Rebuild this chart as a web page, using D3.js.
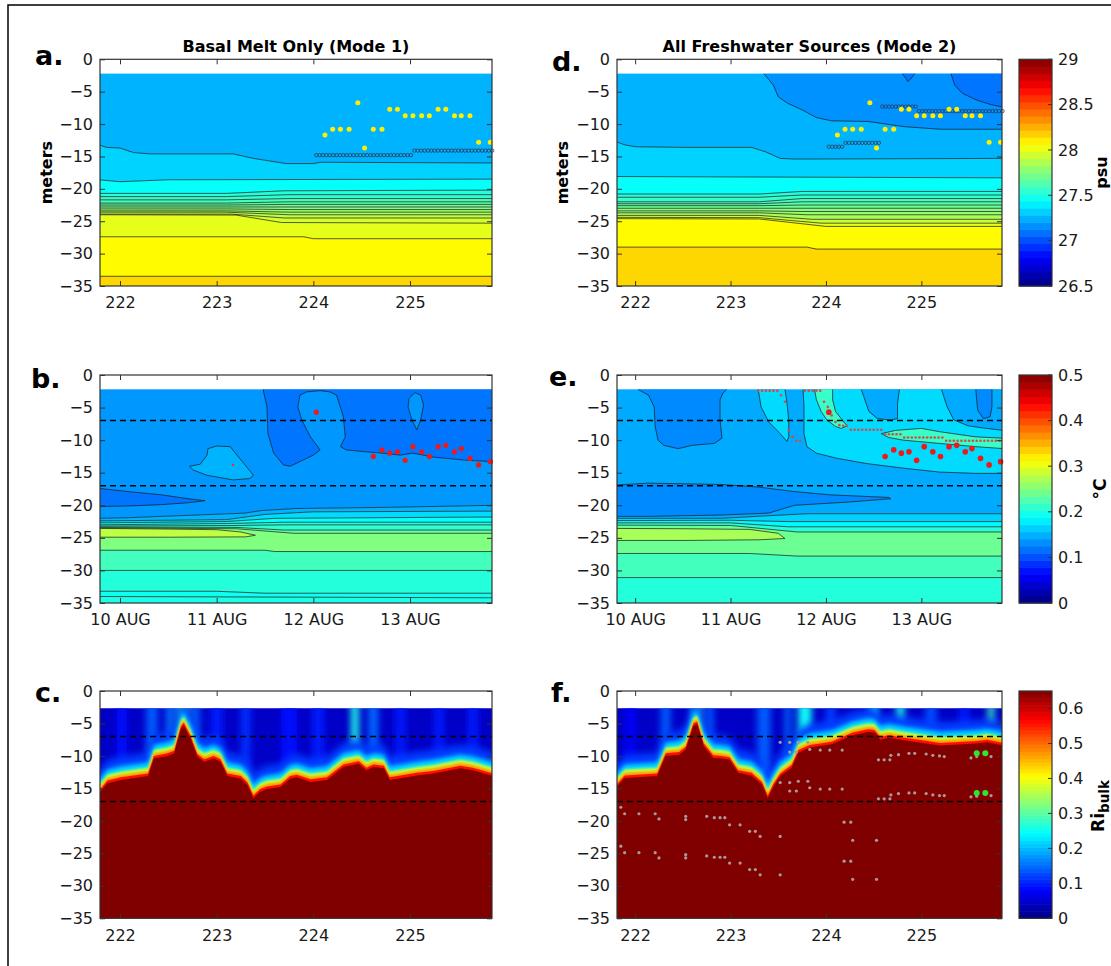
<!DOCTYPE html>
<html><head><meta charset="utf-8">
<script src="https://cdn.jsdelivr.net/npm/d3@7/dist/d3.min.js"></script>
<style>
body{margin:0;background:#fff}
svg{display:block}
text{font-family:"DejaVu Sans",sans-serif}
</style></head><body>
<svg id="fig" width="1111" height="966"></svg>
<script>
// ================= DATA =================
const xTicks = [222,223,224,225];
const dayLabels = ["222","223","224","225"];
const dateLabels = ["10 AUG","11 AUG","12 AUG","13 AUG"];
const yTicks = [0,-5,-10,-15,-20,-25,-30,-35];
const salTicks = [26.5,27,27.5,28,28.5,29];
const tmpTicks = [0,0.1,0.2,0.3,0.4,0.5];
const riTicks = [0,0.1,0.2,0.3,0.4,0.5,0.6];
const titles = ["Basal Melt Only (Mode 1)","All Freshwater Sources (Mode 2)"];
const letters = ["a.","b.","c.","d.","e.","f."];
const dashDepths = [7,17];

// Panel a: salinity contour lines (day, depth m)
const salA_lines = [
 [[221.78,13.2],[221.86,13.6],[222.0,13.7],[222.14,14.4],[222.31,14.6],[223.17,14.6],[223.38,15.3],[223.72,16.1],[224.0,16.1],[224.07,15.9],[225.86,16.0]],
 [[221.78,18.6],[222.0,18.9],[222.5,18.6],[225.86,18.5]],
 [[221.78,20.7],[223.1,20.7],[223.7,20.3],[225.86,20.2]],
 [[221.78,21.2],[223.1,21.2],[223.75,20.9],[225.86,20.9]],
 [[221.78,21.7],[223.1,21.7],[223.75,21.5],[225.86,21.5]],
 [[221.78,22.2],[223.1,22.2],[223.75,22.0],[225.86,22.0]],
 [[221.78,22.5],[223.1,22.5],[223.75,22.4],[225.86,22.4]],
 [[221.78,22.8],[223.1,22.8],[223.75,22.8],[225.86,22.8]],
 [[221.78,23.1],[223.1,23.1],[223.75,23.2],[225.86,23.2]],
 [[221.78,23.4],[223.1,23.4],[223.75,23.6],[225.86,23.6]],
 [[221.78,23.6],[223.1,23.6],[223.75,24.0],[225.86,24.0]],
 [[221.78,23.9],[223.15,23.9],[223.7,24.5],[225.86,24.5]],
 [[221.78,24.0],[223.2,24.05],[223.67,25.2],[225.86,25.3]],
 [[221.78,27.4],[223.9,27.4],[224.0,27.7],[225.86,27.7]],
 [[221.78,33.5],[225.86,33.5]]
];
const salA_vals = [27.25,27.33,27.45,27.52,27.56,27.6,27.65,27.7,27.75,27.8,27.85,27.9,27.95,28.0,28.07,28.16];

// Panel d: salinity contour lines
const salD_lines = [
 [[221.78,12.6],[221.89,13.2],[222.0,13.5],[222.53,13.6],[223.22,13.6],[223.37,14.3],[223.52,15.3],[223.67,15.4],[225.86,15.3]],
 [[221.78,18.1],[225.86,18.3]],
 [[221.78,20.8],[223.3,20.8],[223.75,20.4],[225.86,20.4]],
 [[221.78,21.3],[223.3,21.3],[223.75,20.95],[225.86,20.95]],
 [[221.78,22.0],[223.3,22.0],[223.75,21.5],[225.86,21.5]],
 [[221.78,22.3],[223.3,22.3],[223.75,22.0],[225.86,22.0]],
 [[221.78,22.6],[223.3,22.6],[223.75,22.5],[225.86,22.5]],
 [[221.78,23.0],[223.3,23.0],[223.75,23.0],[225.86,23.0]],
 [[221.78,23.4],[223.3,23.4],[223.75,23.5],[225.86,23.5]],
 [[221.78,23.7],[223.3,23.7],[223.8,24.0],[225.86,24.0]],
 [[221.78,24.1],[223.3,24.1],[223.85,24.7],[225.86,24.7]],
 [[221.78,24.4],[223.3,24.45],[223.95,25.3],[225.86,25.3]],
 [[221.78,24.6],[223.3,24.65],[224.0,25.8],[225.86,25.8]],
 [[221.78,29.0],[223.8,29.0],[223.9,29.3],[225.86,29.3]]
];
const salD_vals = [27.25,27.33,27.45,27.52,27.56,27.6,27.65,27.7,27.75,27.8,27.85,27.92,28.0,28.07,28.16];
const salD_regions = [
 {v:27.17, line:[[223.35,2.2],[223.45,4.0],[223.5,5.8],[223.6,6.8],[223.75,7.8],[223.9,9.0],[224.06,9.5],[224.44,9.6],[224.82,10.4],[225.2,10.8],[225.86,10.8]], edge:[[225.86,2.2]]},
 {v:27.1, line:[[225.31,2.2],[225.35,4.0],[225.43,5.25],[225.58,6.3],[225.73,7.0],[225.86,7.4]], edge:[[225.86,2.2]]},
 {v:27.1, line:[[224.8,2.2],[224.84,3.0],[224.86,3.45],[224.89,3.0],[224.93,2.2]], edge:[]}
];

// Panel b: temperature contour lines
const tmpB_lines = [
 [[221.78,22.0],[222.1,21.9],[222.78,21.5],[223.29,21.2],[223.47,20.8],[223.81,20.5],[224.84,20.3],[225.86,20.0]],
 [[221.78,22.4],[223.1,22.2],[223.5,21.4],[224.0,21.0],[225.86,20.9]],
 [[221.78,22.7],[223.1,22.5],[223.6,22.0],[225.86,21.8]],
 [[221.78,23.0],[223.1,22.8],[223.7,22.6],[225.86,22.6]],
 [[221.78,23.2],[223.2,23.1],[223.7,23.0],[225.86,23.0]],
 [[221.78,23.35],[223.2,23.4],[223.7,23.8],[225.86,23.8]],
 [[221.78,23.45],[223.2,23.6],[223.8,24.3],[225.86,24.3]],
 [[221.78,26.9],[223.5,26.9],[223.6,27.1],[225.86,27.1]],
 [[221.78,30.0],[225.86,30.0]],
 [[221.78,33.2],[223.0,33.2],[223.5,33.5],[225.86,33.5]],
 [[221.78,34.0],[225.86,34.2]]
];
const tmpB_vals = [0.137,0.15,0.17,0.19,0.2,0.21,0.23,0.25,0.22,0.205,0.195,0.2];
const tmpB_regions = [
 {v:0.12, line:[[223.48,2.2],[223.52,4.9],[223.53,9.0],[223.59,12.0],[223.69,13.8],[223.76,14.0],[223.86,13.3],[224.0,12.3],[224.07,11.5],[223.97,9.5],[223.88,6.9],[223.84,4.9],[223.86,3.1],[223.93,2.6],[224.07,2.4],[224.17,2.6],[224.24,3.1],[224.31,6.4],[224.33,9.5],[224.28,11.0],[224.34,11.5],[224.55,11.8],[224.72,12.0],[224.9,12.3],[225.03,12.0],[225.24,12.6],[225.59,13.1],[225.86,13.3]], edge:[[225.86,2.2]]},
 {v:0.137, line:[[225.05,2.7],[224.99,3.6],[224.98,4.9],[225.02,6.9],[225.07,8.4],[225.11,6.9],[225.14,4.6],[225.11,3.1]], edge:[], closed:true},
 {v:0.15, line:[[222.72,14.0],[222.83,13.7],[222.9,12.3],[222.91,11.3],[223.0,10.9],[223.14,11.0],[223.21,12.3],[223.31,14.1],[223.38,15.4],[223.34,15.9],[223.17,16.1],[222.9,15.4],[222.76,14.6]], edge:[], closed:true},
 {v:0.12, line:[[221.78,17.4],[222.09,17.9],[222.43,18.4],[222.71,19.0],[222.88,19.3],[222.71,19.6],[222.43,19.9],[222.09,20.1],[221.78,20.2]], edge:[]},
 {v:0.28, line:[[221.78,23.55],[222.5,23.65],[223.0,23.75],[223.25,24.1],[223.4,24.6],[223.3,24.85],[222.5,24.9],[221.78,24.9]], edge:[]}
];

// Panel e: temperature contour lines
const tmpE_lines = [
 [[221.78,22.0],[222.9,22.0],[223.4,21.6],[223.8,21.3],[225.86,21.3]],
 [[221.78,22.35],[223.0,22.3],[223.6,22.5],[225.86,22.5]],
 [[221.78,22.7],[223.0,22.7],[223.6,23.3],[225.86,23.3]],
 [[221.78,23.05],[223.0,23.1],[223.7,24.1],[225.86,24.1]],
 [[221.78,27.4],[223.2,27.4],[223.7,27.8],[225.86,27.8]],
 [[221.78,31.1],[225.86,31.1]]
];
const tmpE_vals = [0.146,0.165,0.185,0.205,0.24,0.22,0.205];
const tmpE_regions = [
 {v:0.13, line:[[222.03,2.2],[222.14,3.1],[222.2,4.9],[222.21,7.9],[222.24,10.0],[222.3,10.8],[222.45,11.3],[222.6,10.8],[222.83,10.5],[222.91,9.7],[222.89,6.9],[222.89,3.8],[222.92,2.8],[222.96,2.2]], edge:[]},
 {v:0.17, line:[[223.29,2.2],[223.32,4.9],[223.4,7.2],[223.5,8.7],[223.55,9.5],[223.59,10.2],[223.61,9.5],[223.61,6.9],[223.59,4.1],[223.57,2.2]], edge:[]},
 {v:0.17, line:[[223.76,2.2],[223.77,4.9],[223.77,9.0],[223.8,11.0],[223.9,12.0],[224.12,12.8],[224.43,13.6],[224.81,14.3],[225.19,14.9],[225.57,15.1],[225.86,15.1]], edge:[[225.86,2.2]]},
 {v:0.146, line:[[224.37,2.2],[224.45,5.6],[224.54,6.7],[224.68,6.9],[224.75,6.7],[224.75,4.4],[224.77,2.2]], edge:[]},
 {v:0.146, line:[[225.21,2.2],[225.27,4.9],[225.34,6.9],[225.49,7.8],[225.68,8.2],[225.86,8.5]], edge:[[225.86,2.2]]},
 {v:0.13, line:[[225.57,2.2],[225.59,5.4],[225.65,6.7],[225.72,6.4],[225.74,4.9],[225.74,2.2]], edge:[]},
 {v:0.215, line:[[223.88,2.2],[223.9,3.8],[223.95,5.6],[224.01,6.9],[224.1,7.9],[224.16,8.2],[224.22,7.8],[224.16,6.7],[224.1,5.6],[224.07,3.8],[224.07,2.2]], edge:[]},
 {v:0.215, line:[[225.86,11.3],[225.57,11.0],[225.19,10.5],[224.81,10.0],[224.66,9.6],[224.58,9.0],[224.73,8.5],[225.0,8.2],[225.19,8.7],[225.57,9.5],[225.86,9.7]], edge:[]},
 {v:0.13, line:[[221.78,16.9],[222.14,16.6],[222.9,16.8],[223.29,17.2],[223.67,17.9],[224.05,18.4],[224.66,18.8],[224.68,19.0],[224.24,19.5],[223.67,20.0],[223.4,21.2],[222.9,21.5],[222.14,21.7],[221.78,21.7]], edge:[]},
 {v:0.27, line:[[221.78,23.55],[222.5,23.6],[223.2,23.7],[223.5,24.3],[223.57,25.1],[223.3,25.3],[222.5,25.4],[221.78,25.4]], edge:[]}
];

// Ri_bulk: depth of the strongly stratified (dark red) interface
const riC_days = [221.78,221.87,222.01,222.29,222.35,222.49,222.56,222.63,222.66,222.73,222.80,222.87,222.97,223.04,223.11,223.25,223.32,223.38,223.45,223.52,223.66,223.76,223.83,223.97,224.14,224.31,224.47,224.55,224.62,224.73,224.79,225.07,225.24,225.52,225.65,225.86];
const riC_depth = [15.8,14.2,13.7,13.1,10.4,10.0,9.6,5.8,5.3,7.3,10.1,10.9,10.4,10.9,13.1,13.5,14.5,16.5,15.5,15.1,14.8,13.5,13.3,14.0,13.7,11.7,11.2,12.2,11.7,11.9,13.7,13.0,12.7,11.9,12.2,13.1];
const riF_days = [221.78,221.89,222.23,222.32,222.46,222.53,222.61,222.65,222.72,222.82,222.91,222.99,223.08,223.22,223.33,223.39,223.45,223.52,223.64,223.71,223.83,224.06,224.28,224.44,224.51,224.57,224.66,224.82,225.01,225.20,225.58,225.69,225.86];
const riF_depth = [15.2,13.4,13.1,10.0,9.8,9.0,5.4,5.1,8.5,10.3,10.4,10.6,12.6,13.0,14.4,16.5,14.7,13.1,11.8,9.5,8.7,8.2,6.8,6.3,6.4,7.5,7.2,7.6,8.0,8.4,8.1,7.9,8.4];
// lighter vertical streaks above the interface: [day, half-width (days), Ri]
const riC_streaks = [[222.02,0.05,0.09],[222.33,0.06,0.14],[222.52,0.04,0.16],[222.65,0.04,0.27],[222.78,0.04,0.15],[223.0,0.06,0.1],[223.3,0.05,0.11],[223.75,0.08,0.09],[224.05,0.06,0.1],[224.43,0.04,0.26],[224.62,0.05,0.15],[224.9,0.05,0.1],[225.3,0.05,0.1],[225.65,0.05,0.1]];
const riF_streaks = [[221.95,0.05,0.08],[222.32,0.05,0.14],[222.64,0.04,0.27],[222.78,0.04,0.14],[223.35,0.07,0.14],[223.6,0.03,0.15],[223.78,0.07,0.25],[224.05,0.05,0.12],[224.5,0.04,0.23],[224.78,0.04,0.26],[225.1,0.06,0.13],[225.45,0.05,0.1],[225.73,0.03,0.28]];

// Markers
const yellowDays = [224.12,224.20,224.28,224.37,224.46,224.53,224.62,224.71,224.79,224.87,224.95,225.03,225.12,225.20,225.29,225.37,225.46,225.53,225.62,225.71,225.83];
const yellowDepths = [11.7,10.8,10.8,10.8,6.7,13.7,10.8,10.8,7.7,7.7,8.7,8.7,8.7,8.7,7.7,7.7,8.7,8.7,8.7,12.8,12.8];
const redDays = [224.03,224.62,224.71,224.79,224.87,224.95,225.03,225.12,225.20,225.29,225.37,225.46,225.53,225.62,225.71,225.83];
const redDepths = [5.7,12.5,11.5,12.0,11.8,13.1,11.0,11.8,12.5,11.0,10.8,11.8,11.3,12.8,13.8,13.3];
const redSmallB = [[223.17,13.8]];
const mldTimes = [224.03,224.065,224.10,224.135,224.17,224.205,224.24,224.275,224.31,224.345,224.38,224.415,224.45,224.485,224.52,224.555,224.59,224.625,224.66,224.695,224.73,224.765,224.80,224.835,224.87,224.905,224.94,224.975,225.01,225.045,225.08,225.115,225.15,225.185,225.22,225.255,225.29,225.325,225.36,225.395,225.43,225.465,225.50,225.535,225.57,225.605,225.64,225.675,225.71,225.745,225.78,225.815,225.85];
const mldA = [14.8,14.8,14.8,14.8,14.8,14.8,14.8,14.8,14.8,14.8,14.8,14.8,14.8,14.8,14.8,14.8,14.8,14.8,14.8,14.8,14.8,14.8,14.8,14.8,14.8,14.8,14.8,14.8,14.8,14.1,14.1,14.1,14.1,14.1,14.1,14.1,14.1,14.1,14.1,14.1,14.1,14.1,14.1,14.1,14.1,14.1,14.1,14.1,14.1,14.1,14.1,14.1,14.1];
const mldD = [13.5,13.5,13.5,13.5,13.5,12.9,12.9,12.9,12.9,12.9,12.9,12.9,12.9,12.9,12.9,12.9,7.3,7.3,7.3,7.3,7.3,7.3,7.3,7.3,7.3,7.3,7.3,8.0,8.0,8.0,8.0,8.0,8.0,8.0,8.0,8.0,8.0,8.0,8.0,8.0,8.0,8.0,8.0,8.0,8.0,8.0,8.0,8.0,8.0,8.0,8.0,8.0,8.0];
const eDotTimes = [223.29,223.33,223.37,223.41,223.45,223.49,223.53,223.57,223.61,223.65,223.69,223.73,223.78,223.82,223.86,223.90,223.94,223.98,224.02,224.06,224.10,224.14,224.18,224.22,224.26,224.30,224.34,224.38,224.42,224.46,224.50,224.54,224.58,224.62,224.66,224.70,224.74,224.78,224.82,224.86,224.90,224.94,224.98,225.02,225.06,225.10,225.14,225.18,225.22,225.26,225.30,225.34,225.38,225.42,225.46,225.50,225.54,225.58,225.62,225.66,225.70,225.74,225.78,225.82];
const eDotDepths = [2.4,2.4,2.4,2.4,2.4,2.4,3.1,4.1,8.5,9.5,10.1,10.1,2.4,2.4,2.4,2.4,2.4,4.1,4.9,6.2,7.2,7.7,7.8,7.8,8.4,8.4,8.4,8.4,8.4,8.4,8.4,8.4,8.4,9.1,9.1,9.1,9.1,9.1,9.6,9.6,9.6,9.6,9.6,9.6,9.6,9.6,9.6,9.6,9.6,10.1,10.1,10.1,10.1,10.1,10.1,10.1,10.1,10.1,10.1,10.1,10.1,10.1,10.1,10.1];
const fGray = [
 [223.52,7.9],[223.62,7.9],[223.71,7.9],[223.81,7.9],[223.62,9.4],[223.69,9.4],[223.83,9.0],[223.94,9.1],[224.04,9.1],[224.17,9.1],[224.55,10.6],[224.61,10.6],[224.67,10.6],[224.68,9.9],[224.76,9.8],[224.87,9.6],[224.93,9.6],[225.05,9.7],[225.12,9.9],[225.19,10.0],[225.24,10.1],[225.52,10.3],[225.58,10.1],[225.73,10.1],
 [223.52,14.1],[223.62,14.1],[223.71,13.9],[223.81,13.9],[223.62,15.4],[223.69,15.4],[223.83,14.9],[223.94,15.1],[224.04,15.1],[224.17,15.1],[224.55,16.6],[224.61,16.6],[224.67,16.6],[224.68,16.0],[224.76,15.8],[224.87,15.7],[224.93,15.7],[225.05,15.8],[225.12,16.0],[225.19,16.1],[225.24,16.1],[225.52,16.3],[225.58,16.2],[225.73,16.1],
 [221.85,17.9],[221.89,18.9],[222.04,18.9],[222.21,18.9],[222.25,19.7],[222.53,19.3],[222.53,19.8],[222.75,19.3],[222.83,19.5],[222.89,19.5],[222.94,19.5],[222.99,20.6],[223.10,20.6],[223.20,21.6],[223.26,21.6],[223.31,22.4],[223.52,22.4],[224.19,20.2],[224.26,20.2],[224.28,23.0],[224.53,23.0],
 [221.85,23.9],[221.89,24.9],[222.04,24.9],[222.21,24.9],[222.25,25.7],[222.53,25.2],[222.53,25.7],[222.75,25.4],[222.83,25.6],[222.89,25.6],[222.94,25.6],[222.99,26.5],[223.10,26.5],[223.20,27.5],[223.26,27.5],[223.31,28.3],[223.52,28.3],[224.19,26.2],[224.26,26.2],[224.28,29.0],[224.53,29.0]
];
const fGreen = [[225.58,9.6],[225.67,9.6],[225.58,15.7],[225.67,15.7]];

// ================= DRAWING =================
function jet(t){
  t = Math.max(0, Math.min(1, t));
  const c = x => Math.round(255*Math.max(0, Math.min(1, 1.5-Math.abs(x))));
  return `rgb(${c(4*t-3)},${c(4*t-2)},${c(4*t-1)})`;
}
const salColor = v => jet((v-26.5)/2.5);
const tmpColor = v => jet(v/0.5);
const riColor = v => jet(v/0.65);

const svg = d3.select("#fig");
const defs = svg.append("defs");
function blur(id, sx, sy){
  const f = defs.append("filter").attr("id", id).attr("x","-50%").attr("y","-50%").attr("width","200%").attr("height","200%");
  f.append("feGaussianBlur").attr("stdDeviation", `${sx} ${sy}`);
  return `url(#${id})`;
}
const fH = blur("bh", 3.5, 0);
const fHalo = [blur("b1",3.5,3.5), blur("b2",2,2), blur("b3",1.2,1.2), blur("b4",0.9,0.9), blur("b5",0.6,0.6)];

svg.append("rect").attr("width",1111).attr("height",966).attr("fill","#fff");
svg.append("rect").attr("x",8).attr("y",5).attr("width",1200).attr("height",1100)
  .attr("fill","none").attr("stroke","#000").attr("stroke-width",1.5);

const cols = [{x0:100,x1:492,dom:[221.793,225.848]},{x0:617,x1:1002,dom:[221.81,225.845]}];
const rows = [{y0:59.3,y1:286},{y0:375,y1:603},{y0:691,y1:918.3}];

function scales(c, r){
  return {
    xs: d3.scaleLinear().domain(c.dom).range([c.x0, c.x1]),
    ys: d3.scaleLinear().domain([-35, 0]).range([r.y1, r.y0])
  };
}
let clipN = 0;
function clipGroup(xs, ys, top){
  const id = "clip" + (clipN++);
  defs.append("clipPath").attr("id", id).append("rect")
    .attr("x", xs.range()[0]).attr("y", ys(-top))
    .attr("width", xs.range()[1]-xs.range()[0]).attr("height", ys(-35)-ys(-top));
  return svg.append("g").attr("clip-path", `url(#${id})`);
}
function lineGen(xs, ys){ return d3.line().x(d => xs(d[0])).y(d => ys(-d[1])); }

function drawContour(xs, ys, top, lines, vals, regions, colorFn){
  const g = clipGroup(xs, ys, top);
  const L = lineGen(xs, ys);
  const xa = xs.domain()[0]-0.1, xb = xs.domain()[1]+0.1;
  const all = [[[xa,top],[xb,top]], ...lines, [[xa,36],[xb,36]]];
  for (let i = 0; i < all.length-1; i++){
    const poly = all[i].concat(all[i+1].slice().reverse());
    g.append("path").attr("d", L(poly)+"Z").attr("fill", colorFn(vals[i]))
      .attr("stroke", colorFn(vals[i])).attr("stroke-width", 0.4);
  }
  regions.forEach(r => {
    g.append("path").attr("d", L(r.line.concat(r.edge))+"Z").attr("fill", colorFn(r.v));
  });
  const st = sel => sel.attr("fill","none").attr("stroke","#1c1c1c").attr("stroke-width",0.9).attr("stroke-opacity",0.8);
  lines.forEach(l => st(g.append("path").attr("d", L(l))));
  regions.forEach(r => st(g.append("path").attr("d", L(r.line) + (r.closed ? "Z" : ""))));
  return g;
}

function drawRi(xs, ys, days, depths, streaks){
  const top = 2.65;
  const g = clipGroup(xs, ys, top);
  const x0 = xs.range()[0], x1 = xs.range()[1];
  g.append("rect").attr("x", x0-5).attr("y", ys(-top)-5).attr("width", x1-x0+10).attr("height", ys(-35)-ys(-top)+10)
    .attr("fill", riColor(0.045));
  const sg = g.append("g").attr("filter", fH);
  streaks.forEach(s => {
    sg.append("rect").attr("x", xs(s[0]-s[1])).attr("width", xs(s[0]+s[1])-xs(s[0]-s[1]))
      .attr("y", ys(-top)-10).attr("height", ys(-22)-ys(-top)+10).attr("fill", riColor(s[2]));
  });
  const pts = days.map((d,i) => [d, depths[i]]);
  const ext = [[xs.domain()[0]-0.3, depths[0]], ...pts, [xs.domain()[1]+0.3, depths[depths.length-1]]];
  const area = off => d3.area().x(d => xs(d[0])).y0(ys(-40)).y1(d => ys(-(d[1]-off)))(ext);
  const halo = [[3.6,0.12],[2.1,0.22],[1.3,0.37],[0.8,0.47],[0.4,0.56]];
  halo.forEach((h,i) => g.append("path").attr("d", area(h[0])).attr("fill", riColor(h[1])).attr("filter", fHalo[i]));
  g.append("path").attr("d", area(0)).attr("fill", riColor(0.65));
  return g;
}

function dashes(xs, ys){
  dashDepths.forEach(d => {
    svg.append("line").attr("x1", xs.range()[0]).attr("x2", xs.range()[1]).attr("y1", ys(-d)).attr("y2", ys(-d))
      .attr("stroke","#000").attr("stroke-width",1.5).attr("stroke-dasharray","6,4");
  });
}

function axes(xs, ys, xlab){
  const tc = "#333";
  const g = svg.append("g");
  const ab = g.append("g").attr("transform",`translate(0,${ys(-35)})`)
    .call(d3.axisBottom(xs).tickValues(xTicks).tickFormat((d,i) => xlab[i]).tickSizeInner(-5).tickSizeOuter(0).tickPadding(11));
  const at = g.append("g").attr("transform",`translate(0,${ys(0)})`)
    .call(d3.axisTop(xs).tickValues(xTicks).tickFormat("").tickSizeInner(-5).tickSizeOuter(0));
  const al = g.append("g").attr("transform",`translate(${xs.range()[0]},0)`)
    .call(d3.axisLeft(ys).tickValues(yTicks).tickFormat(d => d === 0 ? "0" : "\u2212" + Math.abs(d)).tickSizeInner(-5).tickSizeOuter(0).tickPadding(7));
  const ar = g.append("g").attr("transform",`translate(${xs.range()[1]},0)`)
    .call(d3.axisRight(ys).tickValues(yTicks).tickFormat("").tickSizeInner(-5).tickSizeOuter(0));
  [ab,at,al,ar].forEach(a => {
    a.select(".domain").remove();
    a.selectAll("line").attr("stroke", tc).attr("stroke-width", 1);
    a.selectAll("text").attr("font-size", 16).attr("font-family","DejaVu Sans").attr("fill","#1a1a1a");
  });
  g.append("rect").attr("x", xs.range()[0]).attr("y", ys(0)).attr("width", xs.range()[1]-xs.range()[0])
    .attr("height", ys(-35)-ys(0)).attr("fill","none").attr("stroke", tc).attr("stroke-width", 1.2);
}

function colorbar(r, domain, ticks, steps){
  const x0 = 1019, x1 = 1052;
  const s = d3.scaleLinear().domain(domain).range([r.y1, r.y0]);
  const dv = (domain[1]-domain[0]) / steps;
  const g = svg.append("g");
  for (let i = 0; i < steps; i++){
    const v0 = domain[0] + i*dv;
    g.append("rect").attr("x", x0).attr("width", x1-x0).attr("y", s(v0+dv)).attr("height", s(v0)-s(v0+dv)+0.6)
      .attr("fill", jet((i+0.5)/steps));
  }
  g.append("rect").attr("x", x0).attr("y", r.y0).attr("width", x1-x0).attr("height", r.y1-r.y0)
    .attr("fill","none").attr("stroke","#333").attr("stroke-width",1.2);
  ticks.forEach(t => {
    g.append("line").attr("x1", x1-4).attr("x2", x1).attr("y1", s(t)).attr("y2", s(t)).attr("stroke","#333");
    g.append("text").attr("x", 1058).attr("y", s(t)).attr("dy","0.35em").attr("font-size",16).attr("fill","#1a1a1a").text(String(t));
  });
  return s;
}

function dots(xs, ys, pts, rad, fill, stroke){
  svg.append("g").selectAll("circle").data(pts).join("circle")
    .attr("cx", d => xs(d[0])).attr("cy", d => ys(-d[1])).attr("r", rad)
    .attr("fill", fill).attr("stroke", stroke || "none").attr("stroke-width", stroke ? 0.8 : 0);
}
const zip = (a, b) => a.map((v,i) => [v, b[i]]);

// ---- Row 1: salinity ----
let S = scales(cols[0], rows[0]);
drawContour(S.xs, S.ys, 2.2, salA_lines, salA_vals, [], salColor);
dots(S.xs, S.ys, zip(mldTimes, mldA), 1.7, "none", "#2a3a55");
dots(S.xs, S.ys, zip(yellowDays, yellowDepths), 2.5, "#ffee00");
axes(S.xs, S.ys, dayLabels);

S = scales(cols[1], rows[0]);
drawContour(S.xs, S.ys, 2.2, salD_lines, salD_vals, salD_regions, salColor);
dots(S.xs, S.ys, zip(mldTimes, mldD), 1.7, "none", "#2a3a55");
dots(S.xs, S.ys, zip(yellowDays, yellowDepths), 2.5, "#ffee00");
axes(S.xs, S.ys, dayLabels);
colorbar(rows[0], [26.5, 29], salTicks, 32);

// ---- Row 2: temperature ----
S = scales(cols[0], rows[1]);
drawContour(S.xs, S.ys, 2.2, tmpB_lines, tmpB_vals, tmpB_regions, tmpColor);
dashes(S.xs, S.ys);
dots(S.xs, S.ys, redSmallB, 1.2, "#e8302a");
dots(S.xs, S.ys, zip(redDays, redDepths), 2.6, "#f01818");
axes(S.xs, S.ys, dateLabels);

S = scales(cols[1], rows[1]);
drawContour(S.xs, S.ys, 2.2, tmpE_lines, tmpE_vals, tmpE_regions, tmpColor);
dashes(S.xs, S.ys);
dots(S.xs, S.ys, zip(eDotTimes, eDotDepths), 1.3, "#d24a4a");
dots(S.xs, S.ys, zip(redDays, redDepths), 2.8, "#f01818");
axes(S.xs, S.ys, dateLabels);
colorbar(rows[1], [0, 0.5], tmpTicks, 32);

// ---- Row 3: Ri_bulk ----
S = scales(cols[0], rows[2]);
drawRi(S.xs, S.ys, riC_days, riC_depth, riC_streaks);
dashes(S.xs, S.ys);
axes(S.xs, S.ys, dayLabels);

S = scales(cols[1], rows[2]);
drawRi(S.xs, S.ys, riF_days, riF_depth, riF_streaks);
dashes(S.xs, S.ys);
dots(S.xs, S.ys, fGray, 1.6, "#a89a9a");
dots(S.xs, S.ys, fGreen, 3, "#2ee62e");
axes(S.xs, S.ys, dayLabels);
colorbar(rows[2], [0, 0.65], riTicks, 64);

// ---- Text ----
svg.append("text").attr("x", 296).attr("y", 52).attr("text-anchor","middle").attr("font-size",16).attr("font-weight","bold").text(titles[0]);
svg.append("text").attr("x", 809.5).attr("y", 52).attr("text-anchor","middle").attr("font-size",16).attr("font-weight","bold").text(titles[1]);
const letterPos = [[35,65],[31,388],[35,702],[552,71],[549,386],[551,702]];
letters.forEach((l,i) => svg.append("text").attr("x", letterPos[i][0]).attr("y", letterPos[i][1])
  .attr("font-family","Liberation Sans").attr("font-size",27).attr("font-weight","bold").text(l));
[[46,172.6],[562,172.6]].forEach(p => svg.append("text").attr("transform",`translate(${p[0]},${p[1]}) rotate(-90)`)
  .attr("text-anchor","middle").attr("dy","0.35em").attr("font-size",16).attr("font-weight","bold").text("meters"));
svg.append("text").attr("transform","translate(1106.5,172.6) rotate(-90)").attr("text-anchor","middle")
  .attr("font-size",16).attr("font-weight","bold").text("psu");
svg.append("text").attr("transform","translate(1106,489) rotate(-90)").attr("text-anchor","middle")
  .attr("font-size",17).attr("font-weight","bold").text("\u00B0C");
const ri = svg.append("text").attr("transform","translate(1104,806) rotate(-90)").attr("text-anchor","middle")
  .attr("font-size",17).attr("font-weight","bold");
ri.append("tspan").text("Ri");
ri.append("tspan").attr("font-size",13.5).attr("dy",5).text("bulk");
</script></body></html>
